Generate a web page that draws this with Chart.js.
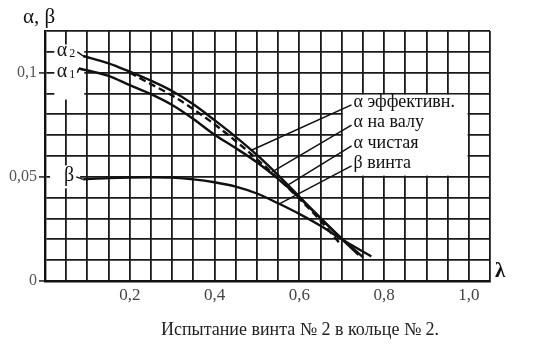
<!DOCTYPE html>
<html>
<head>
<meta charset="utf-8">
<script src="https://cdn.jsdelivr.net/npm/chart.js@4.4.1/dist/chart.umd.min.js"></script>
<style>
  html, body { margin: 0; padding: 0; background: #fff; }
  #wrap { width: 540px; height: 354px; }
</style>
</head>
<body>
<div id="wrap"><canvas id="c" width="540" height="354"></canvas></div>
<script>
// values (λ on x, α / β on y)
const lambdaEff = [0.09, 0.15, 0.2, 0.25, 0.3, 0.35, 0.4, 0.45, 0.5, 0.55, 0.6, 0.65, 0.7, 0.74];
const alphaEff = [0.108, 0.1045, 0.1005, 0.0962, 0.0912, 0.0848, 0.0772, 0.0692, 0.0605, 0.0508, 0.0405, 0.0302, 0.0202, 0.0125];

const lambdaShaft = [0.2, 0.25, 0.3, 0.35, 0.4, 0.45, 0.5, 0.55, 0.6, 0.65, 0.7];
const alphaShaft = [0.1, 0.0945, 0.089, 0.0825, 0.0752, 0.0672, 0.0585, 0.0492, 0.0395, 0.029, 0.017];

const lambdaNet = [0.08, 0.15, 0.2, 0.25, 0.3, 0.35, 0.4, 0.45, 0.5, 0.55, 0.6, 0.65, 0.7, 0.75];
const alphaNet = [0.102, 0.0985, 0.094, 0.0897, 0.0845, 0.0778, 0.0702, 0.0638, 0.057, 0.049, 0.04, 0.0302, 0.0205, 0.0115];

const lambdaBeta = [0.09, 0.15, 0.2, 0.25, 0.3, 0.35, 0.4, 0.45, 0.5, 0.55, 0.6, 0.65, 0.7, 0.77];
const betaScrew = [0.0488, 0.0494, 0.0497, 0.0498, 0.0496, 0.0488, 0.0474, 0.0453, 0.042, 0.0373, 0.0322, 0.0265, 0.02, 0.0118];

const curveNames = ['α эффективн.', 'α на валу', 'α чистая', 'β винта'];
const xTickLabels = ['0,2', '0,4', '0,6', '0,8', '1,0'];
const yTickLabels = ['0', '0,05', '0,1'];

const serif = "'Liberation Serif', 'DejaVu Serif', serif";

function points(xs, ys) {
	return xs.map((v, i) => ({x: v, y: ys[i]}));
}

function interp(xs, ys, v) {
	for (let i = 1; i < xs.length; i++) {
		if (v <= xs[i]) {
			const t = (v - xs[i - 1]) / (xs[i] - xs[i - 1]);
			return ys[i - 1] + t * (ys[i] - ys[i - 1]);
		}
	}
	return ys[ys.length - 1];
}

function xLabel(v) {
	if (Math.round(v * 100) % 20 !== 0 || v <= 0) return '';
	const s = (Math.round(v * 10) / 10).toFixed(1).replace('.', ',');
	return xTickLabels.includes(s) ? s : '';
}

function yLabel(v) {
	const k = Math.round(v * 100);
	const s = k === 0 ? '0' : k === 5 ? '0,05' : k === 10 ? '0,1' : '';
	return yTickLabels.includes(s) ? s : '';
}

function curve(data, dash) {
	return {
		data: data,
		borderColor: '#111',
		borderWidth: 2.4,
		borderDash: dash || [],
		pointRadius: 0,
		fill: false,
		cubicInterpolationMode: 'monotone'
	};
}

const decorations = {
	id: 'decorations',
	beforeDatasetsDraw(chart) {
		const {ctx, scales: {x, y}} = chart;
		ctx.save();
		ctx.fillStyle = '#fff';
		// white field behind the curve names
		const bx0 = x.getPixelForValue(0.7) + 1.2, bx1 = x.getPixelForValue(1.0) - 1.2;
		const by0 = y.getPixelForValue(0.09) + 1.2, by1 = y.getPixelForValue(0.05) - 1.2;
		ctx.fillRect(bx0, by0, bx1 - bx0, by1 - by0);
		// behind α1 / α2 and β
		ctx.fillRect(x.getPixelForValue(0.022), y.getPixelForValue(0.1135), 30, 55);
		ctx.fillRect(x.getPixelForValue(0.012), y.getPixelForValue(0.0555), 30, 23);
		ctx.restore();
	},
	afterDatasetsDraw(chart) {
		const {ctx, scales: {x, y}} = chart;
		ctx.save();
		ctx.fillStyle = '#111';
		ctx.strokeStyle = '#111';
		ctx.lineWidth = 1.5;
		ctx.textBaseline = 'middle';

		// α2, α1, β at the curve starts
		const marks = [
			{t: 'α', sub: '2', v: 0.11, to: [lambdaEff[0], alphaEff[0]]},
			{t: 'α', sub: '1', v: 0.1, to: [lambdaNet[0], alphaNet[0]]},
			{t: 'β', sub: '', v: 0.05, to: [lambdaBeta[0], betaScrew[0]]}
		];
		marks.forEach(m => {
			const py = y.getPixelForValue(m.v);
			const px = x.getPixelForValue(m.sub ? 0.028 : 0.045);
			ctx.font = '20px ' + serif;
			ctx.textAlign = 'left';
			ctx.fillText(m.t, px, py - 1);
			let end = px + ctx.measureText(m.t).width;
			if (m.sub) {
				ctx.font = '12px ' + serif;
				ctx.fillText(m.sub, end + 2, py + 2);
				end += ctx.measureText(m.sub).width + 2;
			}
			ctx.beginPath();
			ctx.moveTo(end + 2, py);
			ctx.lineTo(x.getPixelForValue(m.to[0]), y.getPixelForValue(m.to[1]));
			ctx.stroke();
		});

		// curve names with leader lines
		const series = [[lambdaEff, alphaEff, 0.487], [lambdaShaft, alphaShaft, 0.534], [lambdaNet, alphaNet, 0.569], [lambdaBeta, betaScrew, 0.553]];
		const nameY = [0.086, 0.0763, 0.0663, 0.0567];
		ctx.font = '18px ' + serif;
		ctx.textAlign = 'left';
		series.forEach((s, i) => {
			const tx = x.getPixelForValue(0.728);
			const ty = y.getPixelForValue(nameY[i]);
			ctx.fillText(curveNames[i], tx, ty);
			ctx.beginPath();
			ctx.moveTo(tx - 2, ty + 3);
			ctx.lineTo(x.getPixelForValue(s[2]), y.getPixelForValue(interp(s[0], s[1], s[2])));
			ctx.stroke();
		});
		ctx.restore();
	},
	afterDraw(chart) {
		const {ctx, chartArea} = chart;
		ctx.save();
		ctx.fillStyle = '#111';
		ctx.textBaseline = 'middle';
		ctx.textAlign = 'left';
		ctx.font = '21px ' + serif;
		ctx.fillText('α, β', 23, 17);
		ctx.font = 'bold 21px ' + serif;
		ctx.fillText('λ', chartArea.right + 5, chartArea.bottom - 9);
		ctx.font = '18px ' + serif;
		ctx.textAlign = 'center';
		ctx.fillStyle = '#222';
		ctx.fillText('Испытание винта № 2 в кольце № 2.', 300, 330);
		ctx.restore();
	}
};

const stepTicks = (step, max) => axis => {
	const t = [];
	for (let k = 0; k * step <= max + 1e-9; k++) t.push({value: Math.round(k * step * 1000) / 1000});
	axis.ticks = t;
};

new Chart(document.getElementById('c'), {
	type: 'line',
	data: {
		datasets: [
			curve(points(lambdaEff, alphaEff)),
			curve(points(lambdaShaft, alphaShaft), [7, 4]),
			curve(points(lambdaNet, alphaNet)),
			curve(points(lambdaBeta, betaScrew))
		]
	},
	options: {
		responsive: false,
		animation: false,
		layout: {padding: {top: 31, right: 50, left: 0, bottom: 0}},
		plugins: {legend: {display: false}, tooltip: {enabled: false}},
		scales: {
			x: {
				type: 'linear',
				min: 0,
				max: 1.05,
				afterBuildTicks: stepTicks(0.05, 1.05),
				afterFit: s => { s.height = 73; },
				border: {color: '#111', width: 2.4},
				grid: {color: '#1a1a1a', lineWidth: 1.8, drawTicks: false},
				ticks: {
					autoSkip: false,
					maxRotation: 0,
					padding: 4,
					color: '#444',
					font: {family: serif, size: 17},
					callback: v => xLabel(v)
				}
			},
			y: {
				type: 'linear',
				min: 0,
				max: 0.12,
				afterBuildTicks: stepTicks(0.01, 0.12),
				afterFit: s => { s.width = 45; },
				border: {color: '#111', width: 2.4},
				grid: {
					color: '#1a1a1a',
					lineWidth: 1.8,
					tickLength: 6,
					tickColor: c => (c.tick && yLabel(c.tick.value)) ? '#444' : 'rgba(0,0,0,0)'
				},
				ticks: {
					autoSkip: false,
					padding: 2,
					color: '#555',
					font: {family: serif, size: 16},
					callback: v => yLabel(v)
				}
			}
		}
	},
	plugins: [decorations]
});
</script>
</body>
</html>
